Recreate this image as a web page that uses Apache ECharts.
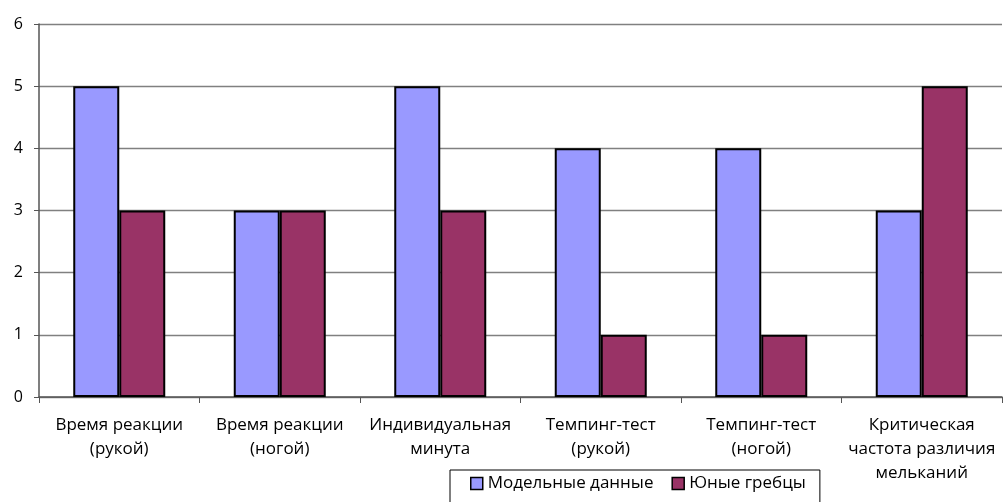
<!DOCTYPE html>
<html><head><meta charset="utf-8">
<script src="https://cdn.jsdelivr.net/npm/echarts@6/dist/echarts.min.js"></script>
<style>html,body{margin:0;padding:0;background:#fff}#c{width:1005px;height:502px}</style>
</head><body><div id="c"></div>
<script>
const categories = ['Время реакции\n(рукой)', 'Время реакции\n(ногой)', 'Индивидуальная\nминута', 'Темпинг-тест\n(рукой)', 'Темпинг-тест\n(ногой)', 'Критическая\nчастота различия\nмельканий'];
const modelData = [5, 3, 5, 4, 4, 3];
const youngRowers = [3, 3, 3, 1, 1, 5];
const seriesNames = ['Модельные данные', 'Юные гребцы'];

const font = 'Open Sans';
const chart = echarts.init(document.getElementById('c'));
chart.setOption({
  animation: false,
  grid: { left: 39, right: 3, top: 24, bottom: 105, containLabel: false },
  legend: {
    top: 470, left: 450,
    itemWidth: 12, itemHeight: 12, itemGap: 18,
    padding: [5, 14, 12, 20],
    borderColor: '#000', borderWidth: 1,
    textStyle: { fontFamily: font, fontSize: 17, color: '#000' },
    data: seriesNames.map(n => ({ name: n, icon: 'rect', itemStyle: { borderColor: '#000', borderWidth: 1.5 } }))
  },
  xAxis: {
    type: 'category', data: categories,
    axisLine: { lineStyle: { color: '#555', width: 1.5 } },
    axisTick: { show: true, length: 6, lineStyle: { color: '#555' } },
    axisLabel: { fontFamily: font, fontSize: 17, color: '#000', lineHeight: 24, margin: 16, interval: 0 }
  },
  yAxis: {
    type: 'value', min: 0, max: 6, interval: 1,
    axisLine: { show: true, lineStyle: { color: '#555', width: 1.5 } },
    axisTick: { show: true, inside: false, length: 5, lineStyle: { color: '#555' } },
    axisLabel: { fontFamily: font, fontSize: 16, color: '#000', margin: 16 },
    splitLine: { lineStyle: { color: '#808080', width: 1.3 } }
  },
  series: [
    { name: seriesNames[0], type: 'bar', data: modelData, barWidth: 46, barGap: '0%',
      itemStyle: { color: '#9999ff', borderColor: '#000', borderWidth: 2 } },
    { name: seriesNames[1], type: 'bar', data: youngRowers, barWidth: 46,
      itemStyle: { color: '#993366', borderColor: '#000', borderWidth: 2 } }
  ]
});
</script></body></html>
